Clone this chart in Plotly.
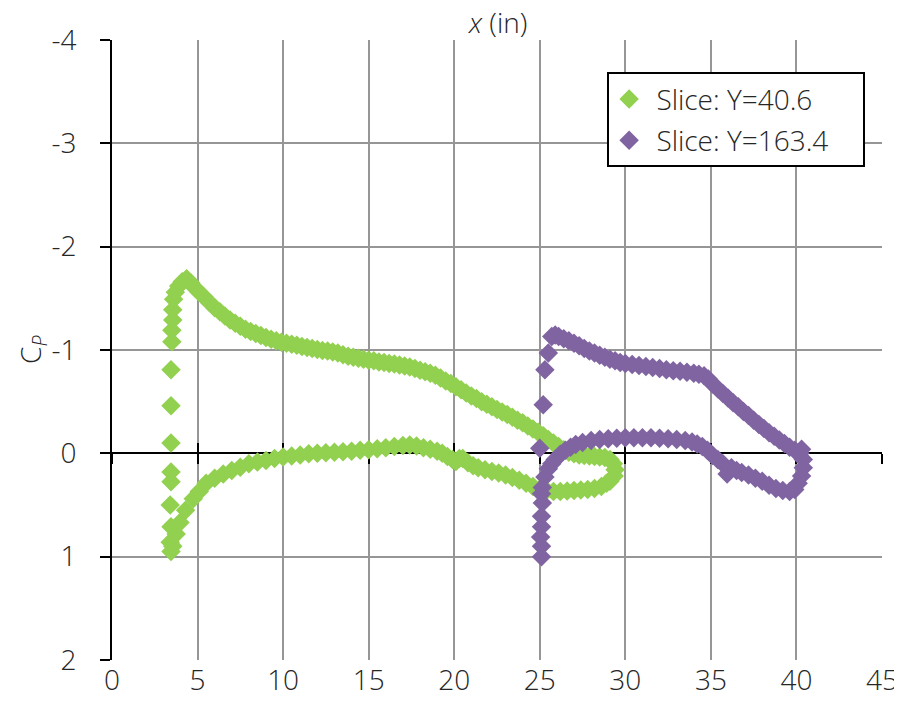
import plotly.graph_objects as go

# ---------------- data ----------------
# Slice: Y=40.6  (green)
green_le_x = [3.45, 3.40, 3.45, 3.40, 3.45, 3.45, 3.45, 3.45, 3.45, 3.50, 3.50, 3.55, 3.55, 3.60, 3.70]
green_le_cp = [0.95, 0.86, 0.71, 0.50, 0.275, 0.18, -0.10, -0.46, -0.81, -1.08, -1.19, -1.29, -1.39, -1.49, -1.56]

green_upper_x = [3.9, 4.1, 4.36, 4.6, 4.85, 5.1, 5.4, 5.7, 6.0, 6.3, 6.6, 6.9, 7.2, 7.5, 7.8, 8.1, 8.4,
                 8.7, 9.0, 9.3, 9.6, 9.9, 10.2, 10.5, 10.8, 11.1, 11.4, 11.7, 12.0, 12.3, 12.6, 12.9,
                 13.2, 13.5, 13.8, 14.1, 14.4, 14.7, 15.0, 15.3, 15.6, 15.9, 16.2, 16.5, 16.8, 17.1,
                 17.4, 17.7, 18.0, 18.3, 18.6, 18.9, 19.2, 19.5, 19.8, 20.1, 20.4, 20.7, 21.0, 21.3,
                 21.6, 21.9, 22.2, 22.5, 22.8, 23.1, 23.4, 23.7, 24.0, 24.3, 24.6, 24.9, 25.2, 25.5,
                 25.8, 26.1, 26.4, 26.7, 27.0, 27.3, 27.6, 27.9, 28.2, 28.5, 28.8, 29.1, 29.3, 29.4,
                 29.35, 29.1]
green_upper_cp = [-1.62, -1.66, -1.69, -1.65, -1.60, -1.56, -1.51, -1.46, -1.41, -1.37, -1.33, -1.29,
                  -1.26, -1.23, -1.20, -1.18, -1.16, -1.14, -1.12, -1.105, -1.09, -1.075, -1.065,
                  -1.055, -1.045, -1.035, -1.025, -1.015, -1.005, -0.995, -0.99, -0.98, -0.97,
                  -0.955, -0.94, -0.93, -0.92, -0.91, -0.90, -0.895, -0.885, -0.88, -0.87, -0.865,
                  -0.855, -0.845, -0.835, -0.82, -0.805, -0.79, -0.775, -0.755, -0.73, -0.70,
                  -0.675, -0.645, -0.615, -0.585, -0.555, -0.53, -0.50, -0.475, -0.45, -0.425,
                  -0.40, -0.375, -0.35, -0.32, -0.295, -0.265, -0.235, -0.205, -0.17, -0.135,
                  -0.10, -0.065, -0.035, -0.01, 0.005, 0.015, 0.02, 0.025, 0.03, 0.035, 0.04,
                  0.06, 0.10, 0.16, 0.22, 0.27]

green_lower_x = [3.55, 3.75, 3.97, 4.3, 4.75, 5.1, 5.5, 6.0, 6.5, 7.0, 7.5, 8.0, 8.5, 9.0, 9.5, 10.0,
                 10.5, 11.0, 11.5, 12.0, 12.5, 13.0, 13.5, 14.0, 14.5, 15.0, 15.5, 16.0, 16.5, 17.0,
                 17.4, 17.8, 18.2, 18.6, 19.0, 19.3, 19.6, 19.9, 20.1, 20.3, 20.5, 20.8, 21.1, 21.4,
                 21.8, 22.2, 22.6, 23.0, 23.4, 23.8, 24.2, 24.6, 25.0, 25.4, 25.8, 26.2, 26.6, 27.0,
                 27.4, 27.8, 28.2, 28.6, 28.9]
green_lower_cp = [0.90, 0.78, 0.67, 0.55, 0.44, 0.37, 0.29, 0.24, 0.20, 0.165, 0.135, 0.10, 0.085,
                  0.07, 0.05, 0.035, 0.025, 0.015, 0.005, 0.0, -0.005, -0.01, -0.015, -0.02, -0.03,
                  -0.035, -0.045, -0.055, -0.065, -0.075, -0.08, -0.07, -0.055, -0.04, -0.02, 0.0,
                  0.03, 0.06, 0.08, 0.05, 0.05, 0.09, 0.12, 0.14, 0.16, 0.175, 0.19, 0.21, 0.235,
                  0.26, 0.29, 0.32, 0.345, 0.36, 0.37, 0.37, 0.365, 0.36, 0.355, 0.35, 0.34, 0.32,
                  0.29]

# Slice: Y=163.4  (purple)
purple_le_x = [25.1, 25.1, 25.05, 25.1, 25.1, 25.15, 25.1, 25.0, 25.2, 25.3, 25.5]
purple_le_cp = [1.0, 0.90, 0.81, 0.71, 0.61, 0.48, 0.39, -0.05, -0.47, -0.81, -0.97]

purple_upper_x = [25.7, 25.9, 26.1, 26.4, 26.7, 27.0, 27.3, 27.6, 27.9, 28.2, 28.5, 28.8, 29.1, 29.4,
                  29.7, 30.0, 30.4, 30.8, 31.2, 31.6, 32.0, 32.4, 32.8, 33.2, 33.6, 34.0, 34.3, 34.6,
                  34.85, 35.1, 35.4, 35.7, 36.0, 36.3, 36.6, 36.9, 37.2, 37.5, 37.8, 38.1, 38.4,
                  38.7, 39.0, 39.3, 39.6, 39.9, 40.2, 40.3, 40.4, 40.4, 40.3, 40.1]
purple_upper_cp = [-1.13, -1.145, -1.13, -1.11, -1.09, -1.065, -1.04, -1.015, -0.99, -0.97, -0.95,
                   -0.93, -0.91, -0.895, -0.88, -0.87, -0.86, -0.85, -0.84, -0.83, -0.82, -0.81,
                   -0.80, -0.795, -0.785, -0.775, -0.765, -0.75, -0.72, -0.67, -0.625, -0.58,
                   -0.535, -0.49, -0.45, -0.405, -0.365, -0.32, -0.28, -0.24, -0.20, -0.165, -0.13,
                   -0.095, -0.06, -0.03, 0.0, -0.04, 0.06, 0.14, 0.22, 0.29]

purple_lower_x = [25.15, 25.3, 25.5, 25.7, 25.9, 26.2, 26.5, 26.8, 27.1, 27.5, 28.0, 28.5, 29.0, 29.5,
                  30.0, 30.5, 31.0, 31.5, 32.0, 32.5, 33.0, 33.5, 33.9, 34.2, 34.5, 34.8, 35.1, 35.4,
                  35.7, 35.95, 36.2, 36.5, 36.8, 37.2, 37.6, 38.0, 38.4, 38.8, 39.2, 39.6, 39.9]
purple_lower_cp = [0.33, 0.23, 0.15, 0.10, 0.06, 0.01, -0.03, -0.06, -0.085, -0.105, -0.125, -0.135,
                   -0.14, -0.145, -0.15, -0.15, -0.15, -0.15, -0.145, -0.14, -0.135, -0.125, -0.11,
                   -0.09, -0.065, -0.03, 0.02, 0.06, 0.10, 0.20, 0.14, 0.165, 0.185, 0.21, 0.24,
                   0.27, 0.31, 0.34, 0.36, 0.37, 0.35]

series_names = ["Slice: Y=40.6", "Slice: Y=163.4"]
series_colors = ["#92D050", "#8064A2"]

x_ticks = [0, 5, 10, 15, 20, 25, 30, 35, 40, 45]
y_ticks = [-4, -3, -2, -1, 0, 1, 2]
y_ticktext = ["-4", "-3", "-2", "-1", "0", "1", "2"]

# ---------------- figure ----------------
FONT = dict(family="Open Sans, Noto Sans, sans-serif", size=28, color="#262626", weight=300)
PRE = "\u00a0"
PAD = "\u00a0\u00a0\u00a0\u00a0"

fig = go.Figure()
fig.add_trace(go.Scatter(
    x=green_le_x + green_upper_x + green_lower_x,
    y=green_le_cp + green_upper_cp + green_lower_cp,
    mode="markers", name=PRE + series_names[0] + PAD, legendgroup="g1",
    marker=dict(symbol="diamond", size=15, color=series_colors[0], line=dict(width=0)),
))
fig.add_trace(go.Scatter(
    x=purple_le_x + purple_upper_x + purple_lower_x,
    y=purple_le_cp + purple_upper_cp + purple_lower_cp,
    mode="markers", name=PRE + series_names[1] + PAD, legendgroup="g2",
    marker=dict(symbol="diamond", size=15, color=series_colors[1], line=dict(width=0)),
))
# empty helper traces so the zero-crossing tick axes are drawn
for ax in ("x2", "x3"):
    fig.add_trace(go.Scatter(x=x_ticks, y=[None] * len(x_ticks), xaxis=ax, yaxis="y",
                             mode="markers", showlegend=False, hoverinfo="skip"))

grid = "#969696"
fig.update_layout(
    width=894, height=717,
    margin=dict(l=104, r=20, t=32, b=65, autoexpand=False),
    paper_bgcolor="white", plot_bgcolor="white",
    font=FONT,
    showlegend=True,
    legend=dict(x=0.643, y=0.948, xanchor="left", yanchor="top",
                bgcolor="white", bordercolor="black", borderwidth=2,
                font=FONT, tracegroupgap=2, traceorder="grouped",
                itemsizing="trace"),
    xaxis=dict(range=[0, 45], tickvals=x_ticks, showgrid=True, gridcolor=grid, gridwidth=2,
               zeroline=False, showline=False, ticks="", ticklabelstandoff=1,
               tickfont=FONT),
    xaxis2=dict(range=[0, 45], tickvals=x_ticks, overlaying="x", anchor="free", position=1/3,
                side="bottom", showgrid=False, zeroline=False, showline=False,
                ticks="outside", ticklen=10, tickwidth=2, tickcolor="black",
                showticklabels=False, layer="below traces"),
    xaxis3=dict(range=[0, 45], tickvals=x_ticks, overlaying="x", anchor="free", position=1/3,
                side="bottom", showgrid=False, zeroline=False, showline=False,
                ticks="inside", ticklen=10, tickwidth=2, tickcolor="black",
                showticklabels=False, layer="below traces"),
    yaxis=dict(range=[2, -4], tickvals=y_ticks, ticktext=y_ticktext, showgrid=True,
               gridcolor=grid, gridwidth=2, zeroline=True, zerolinecolor="black",
               zerolinewidth=2, showline=True, linecolor="black", linewidth=2,
               ticks="outside", ticklen=10, tickwidth=2, tickcolor="black",
               ticklabelstandoff=18, tickfont=FONT),
    annotations=[
        dict(text="<i>x</i> (in)", xref="paper", yref="paper", x=0.5, y=1.0,
             yshift=18, xanchor="center", yanchor="middle", showarrow=False, font=FONT),
        dict(text="C<sub><i>P</i></sub>", xref="paper", yref="paper", x=0, xshift=-80,
             y=0.5, xanchor="center", yanchor="middle", textangle=-90, showarrow=False,
             font=FONT),
    ],
)

fig.write_html("out.html")
